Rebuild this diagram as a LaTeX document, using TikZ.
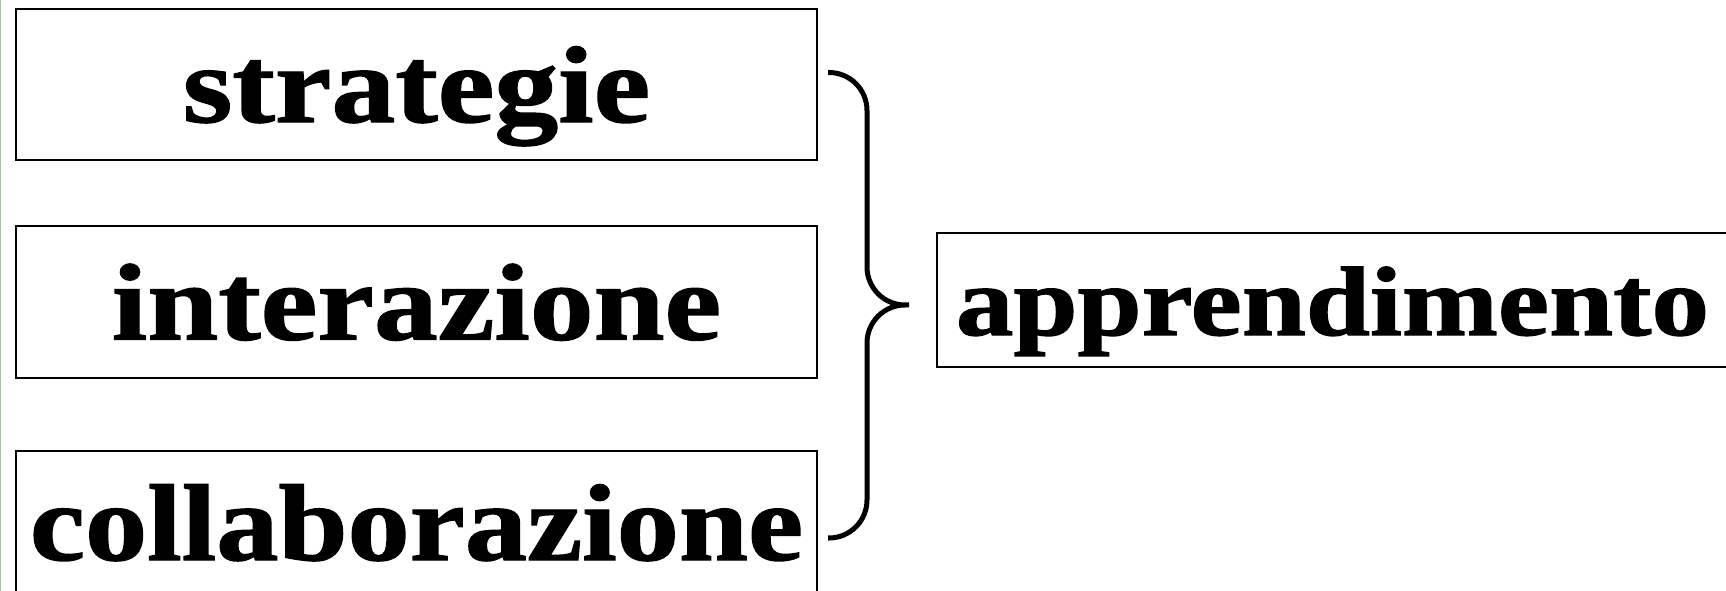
\documentclass[tikz,border=0pt]{standalone}
\usepackage{fontspec}
\newfontfamily\boxfont{Liberation Serif}[FakeStretch=1.17, FakeBold=1.3]
\newfontfamily\narrowboxfont{Liberation Serif}[FakeStretch=1.14, FakeBold=1.3]
\definecolor{edgegreen}{RGB}{146,208,146}
\begin{document}
\begin{tikzpicture}[x=0.01cm, y=-0.01cm,
		box/.style={draw, line width=0.02cm, inner sep=0pt, text depth=0pt,
				font=\boxfont\bfseries\fontsize{31}{37}\selectfont},
		left box/.style={box, minimum width=8.01cm, minimum height=1.51cm, text height=0.75cm}]
	\useasboundingbox (0,0) rectangle (1726,591);
	\clip (0,0) rectangle (1726,591);
	\draw[edgegreen, line width=0.015cm] (0.7,0) -- (0.7,591);
	\node[left box] (strategie) at (416.5,84.5) {strategie};
	\node[left box] (interazione) at (416.5,302) {interazione};
	\node[left box, minimum height=1.43cm, font=\narrowboxfont\bfseries\fontsize{31}{37}\selectfont]
		(collaborazione) at (416.5,522.5) {collaborazione};
	\node[box, minimum width=7.91cm, minimum height=1.34cm, text height=0.7cm,
			font=\boxfont\bfseries\fontsize{28}{34}\selectfont] (apprendimento) at (1332.5,300) {apprendimento};
	\coordinate (brace top) at (828,72.5);
	\coordinate (brace tip) at (909,305);
	\coordinate (brace bottom) at (828,538);
	\draw[line width=0.05cm, rounded corners=0.38cm] (brace top) -| (867,305) -- (brace tip)
		(brace tip) -- (867,305) |- (brace bottom);
\end{tikzpicture}
\end{document}
